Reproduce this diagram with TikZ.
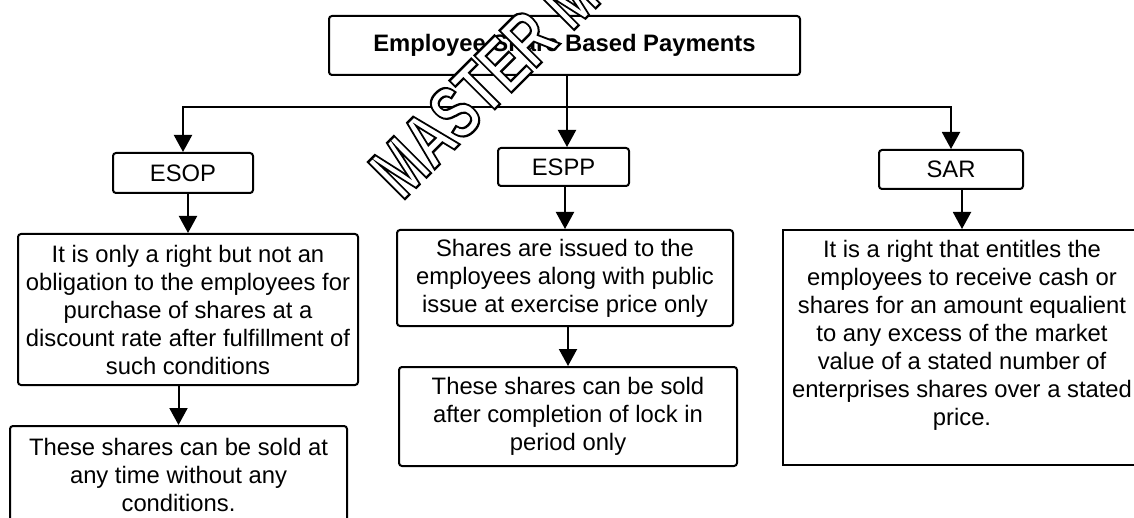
\documentclass[tikz,border=0pt]{standalone}
\usepackage{fontspec}
\setmainfont{Liberation Sans}
\usetikzlibrary{arrows.meta}

\begin{document}
\begin{tikzpicture}[x=0.5pt,y=-0.5pt,
    >={Triangle[length=8.5pt,width=9pt]},
    box/.style={draw,line width=1pt,rounded corners=1.5pt,align=center,inner sep=0pt,
      font=\fontsize{11.9}{14}\selectfont},
    flow/.style={line width=1pt}]
    \useasboundingbox (0,0) rectangle (1134,518);
    \clip (0,0) rectangle (1134,518);
    %\draw[very thin,color=gray] (0,0) grid (1134,518);
    \node[box,minimum width=235.5pt,minimum height=29.5pt,font=\fontsize{11.9}{14}\selectfont\bfseries]
        (top) at (564.5,45.5) {Employee Share Based Payments};
    \node[box,minimum width=70pt,minimum height=20pt] (esop) at (183,173) {ESOP};
    \node[box,minimum width=65.5pt,minimum height=19pt] (espp) at (563.5,167) {ESPP};
    \node[box,minimum width=72pt,minimum height=19.5pt] (sar) at (951,169.5) {SAR};
    \node[box,minimum width=170pt,minimum height=75.5pt] (esop1) at (188,309.5)
        {It is only a right but not an\\obligation to the employees for\\purchase of shares at a\\discount rate after fulfillment of\\such conditions};
    \node[box,minimum width=168.5pt,minimum height=49pt] (esop2) at (178.5,475)
        {These shares can be sold at\\any time without any\\conditions.};
    \node[box,minimum width=168pt,minimum height=48pt] (espp1) at (565,278)
        {Shares are issued to the\\employees along with public\\issue at exercise price only};
    \node[box,minimum width=169pt,minimum height=49.5pt] (espp2) at (568,416.5)
        {These shares can be sold\\after completion of lock in\\period only};
    \node[box,sharp corners,minimum width=179pt,minimum height=117.5pt] (sar1) at (962,347.5)
        {It is a right that entitles the\\employees to receive cash or\\shares for an amount equalient\\to any excess of the market\\value of a stated number of\\enterprises shares over a stated\\price.\rule[-15pt]{0pt}{1pt}};

    \coordinate (bar) at (567,107);
    \draw[flow] (top.south -| bar) -- (bar);
    \draw[flow] [->] (bar) -| (esop.north);
    \draw[flow] [->] (bar) -| (sar.north);
    \draw[flow] [->] (bar) -- (espp.north -| bar);
    \draw[flow] [->] (esop1.north |- esop.south) -- (esop1.north);
    \draw[flow] [->] (esop2.north |- esop1.south) -- (esop2.north);
    \draw[flow] [->] (espp1.north |- espp.south) -- (espp1.north);
    \draw[flow] [->] (espp2.north |- espp1.south) -- (espp2.north);
    \draw[flow] [->] (sar1.north |- sar.south) -- (sar1.north);

    % watermark
    \node[rotate=45,anchor=base west,inner sep=0pt] (wm) at (402,202)
        {\fontsize{38}{38}\selectfont\bfseries\scalebox{0.7}[1]{\color{white}\special{pdf:literal direct 2 Tr 0 G 1.2 w}MASTER MINDS\special{pdf:literal direct 0 Tr}}};
\end{tikzpicture}
\end{document}
